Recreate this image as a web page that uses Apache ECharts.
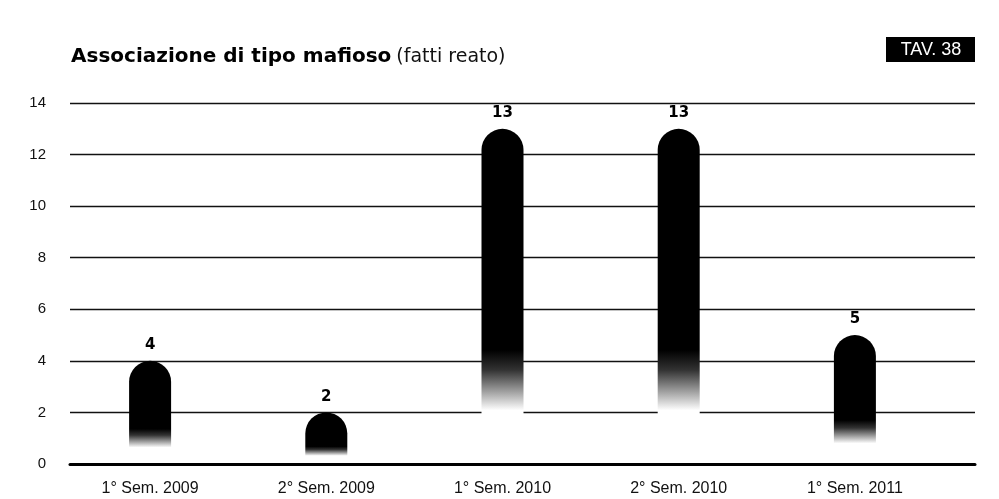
<!DOCTYPE html>
<html>
<head>
<meta charset="utf-8">
<script src="https://cdn.jsdelivr.net/npm/echarts@6/dist/echarts.min.js"></script>
<style>html,body{margin:0;padding:0;background:#fff}#c{width:999px;height:499px}</style>
</head>
<body>
<div id="c"></div>
<script>
const categories = ['1° Sem. 2009', '2° Sem. 2009', '1° Sem. 2010', '2° Sem. 2010', '1° Sem. 2011'];
const values = [4, 2, 13, 13, 5];
const yTicks = [0, 2, 4, 6, 8, 10, 12, 14];

const FONT = '"Liberation Sans", Arial, Helvetica, sans-serif';
const WIDE = '"DejaVu Sans", Verdana, sans-serif';
const chart = echarts.init(document.getElementById('c'));
const barGradient = new echarts.graphic.LinearGradient(0, 0, 0, 1, [
  { offset: 0, color: '#000' },
  { offset: 0.66, color: '#000' },
  { offset: 0.72, color: '#333' },
  { offset: 0.78, color: '#999' },
  { offset: 0.84, color: '#fff' },
  { offset: 1, color: '#fff' }
]);

chart.setOption({
  backgroundColor: '#fff',
  animation: false,
  title: {
    left: 71, top: 45, padding: 0,
    text: '{b|Associazione di tipo mafioso} {n|(fatti reato)}',
    textStyle: {
      rich: {
        b: { fontFamily: WIDE, fontWeight: 'bold', fontSize: 20, color: '#000', lineHeight: 24 },
        n: { fontFamily: WIDE, fontWeight: 'normal', fontSize: 19, color: '#111', lineHeight: 24 }
      }
    }
  },
  graphic: [{
    type: 'group', left: 886, top: 37,
    children: [
      { type: 'rect', shape: { x: 0, y: 0, width: 89, height: 25 }, style: { fill: '#000' } },
      { type: 'text', x: 45, y: 13, style: { text: 'TAV. 38', fill: '#fff', font: '18px ' + FONT, align: 'center', verticalAlign: 'middle' } }
    ]
  }],
  grid: [
    { left: 70, right: 24, top: 103, bottom: 35 },
    { left: 62, right: 56, top: 103, bottom: 35 }
  ],
  xAxis: [
    { gridIndex: 0, type: 'value', min: 0, max: 1, show: true, z: 10,
      axisLine: { show: true, lineStyle: { color: '#000', width: 3 } },
      axisTick: { show: false }, axisLabel: { show: false }, splitLine: { show: false } },
    { gridIndex: 1, type: 'category', data: categories,
      axisLine: { show: false }, axisTick: { show: false },
      axisLabel: { margin: 17, fontFamily: FONT, fontSize: 16, color: '#111' } }
  ],
  yAxis: [
    { gridIndex: 0, type: 'value', min: yTicks[0], max: yTicks[yTicks.length - 1], interval: 2,
      axisLine: { show: false }, axisTick: { show: false },
      axisLabel: { margin: 24, fontFamily: FONT, fontSize: 15, color: '#111' },
      splitLine: { lineStyle: { color: '#111', width: 1.3 } } },
    { gridIndex: 1, type: 'value', min: yTicks[0], max: yTicks[yTicks.length - 1], interval: 2, show: false }
  ],
  series: [{
    type: 'bar', xAxisIndex: 1, yAxisIndex: 1, data: values, barWidth: 42,
    itemStyle: { color: barGradient, borderRadius: [21, 21, 0, 0] },
    label: { show: true, position: 'top', distance: 8, fontFamily: WIDE, fontWeight: 'bold', fontSize: 15, color: '#000' }
  }]
});
</script>
</body>
</html>
